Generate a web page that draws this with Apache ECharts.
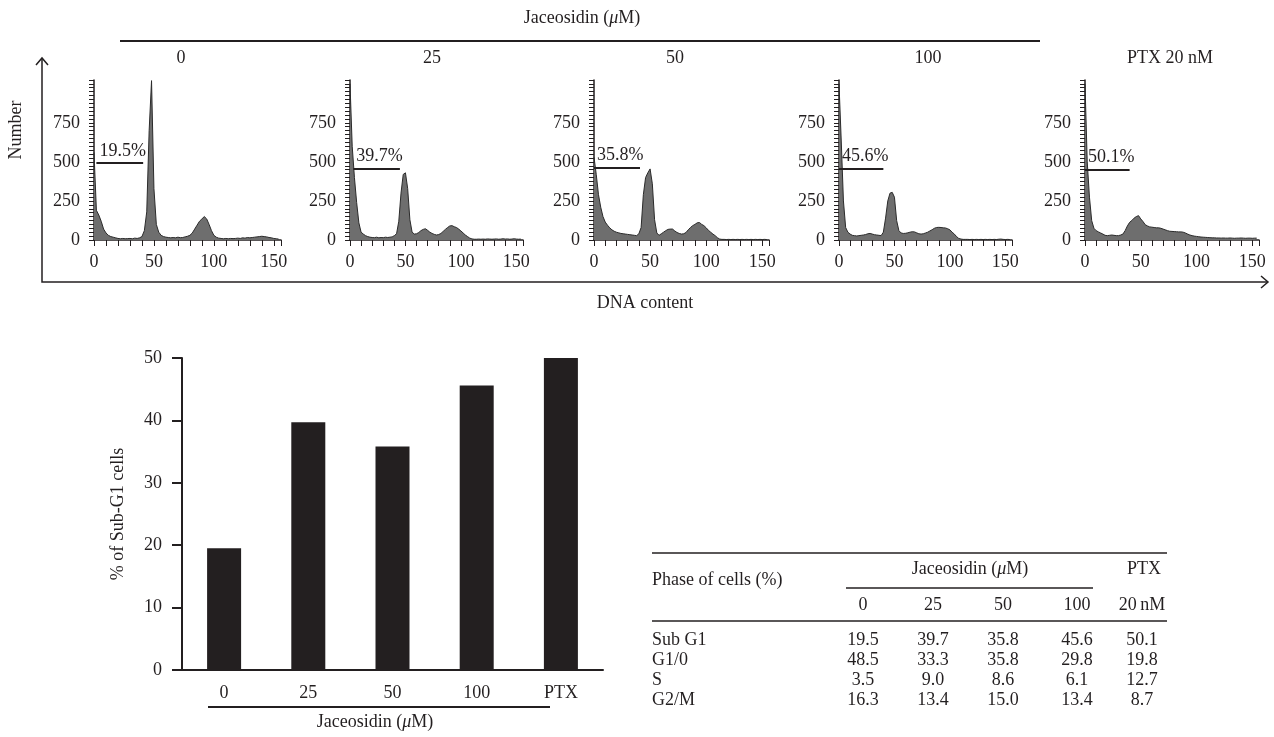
<!DOCTYPE html>
<html><head><meta charset="utf-8">
<script src="https://cdn.jsdelivr.net/npm/echarts@6/dist/echarts.min.js"></script>
<style>html,body{margin:0;padding:0;background:#fff}#c{width:1274px;height:737px}</style>
</head><body><div id="c"></div>
<script>
// ---------- DATA ----------
const dnaBins = [0,2,4,6,8,10,12,14,16,18,20,22,24,26,28,30,32,34,36,38,40,42,44,46,48,50,52,54,56,58,60,62,64,66,68,70,72,74,76,78,80,82,84,86,88,90,92,94,96,98,100,102,104,106,108,110,112,114,116,118,120,122,124,126,128,130,132,134,136,138,140,142,144,146,148,150,152,154];
const panelLabels = ['0','25','50','100','PTX 20 nM'];
const countsJ0 = [560,190,160,120,70,45,30,22,18,14, 10,8,10,8,9,10,8,12,10,14, 22,60,180,700,1020,330,100,50,30,22, 18,16,14,16,14,18,15,16,20,24, 30,45,70,95,120,135,150,135,100,60, 30,18,12,10,8,10,8,10,9,10, 12,10,14,12,16,14,16,18,20,22, 24,22,20,16,14,10,8,6];
const countsJ25 = [1000,600,400,240,110,50,38,28,22,18, 16,15,18,14,16,15,18,16,18,20, 28,40,120,300,420,430,330,130,50,38, 40,48,60,68,72,62,50,42,36,32, 35,42,55,68,80,90,92,85,80,70, 58,45,32,22,12,7,5,5,6,5, 6,5,7,6,5,6,7,5,6,8, 6,7,5,6,8,6,5,6];
const countsJ50 = [530,420,290,210,150,115,95,78,65,56, 50,46,42,40,38,36,34,32,30,28, 40,80,290,400,430,455,360,130,45,30, 40,50,60,68,70,70,58,48,42,38, 40,48,65,80,92,100,110,112,100,92, 78,62,50,38,28,15,6,4,4,3, 4,3,4,3,4,3,4,3,4,3, 4,3,4,3,4,3,4,3];
const countsJ100 = [1000,640,250,80,50,38,30,28,26,28, 30,32,35,40,42,38,34,32,30,28, 50,140,250,300,305,274,124,60,45,42, 43,46,50,53,52,46,40,38,40,45, 50,58,66,75,80,81,80,78,77,72, 65,50,38,22,10,6,4,4,4,3, 4,3,4,3,4,3,4,3,4,3, 4,3,5,6,4,3,4,3];
const countsPTX = [1000,500,274,124,75,60,52,45,38,30, 28,30,32,30,28,28,32,38,60,90, 113,125,140,150,156,135,118,98,90,84, 82,80,78,78,75,70,65,60,56,55, 54,53,52,52,50,45,38,32,28,25, 23,21,19,18,17,16,15,14,14,13, 13,12,13,12,12,13,12,11,12,12, 13,12,11,12,12,11,12,12];
const gateStart = [2,3,0,0,0];
const gateEnd = [41,45,41,40,40];
const gateLevel = [493,456,463,456,452];

const barCategories = ['0','25','50','100','PTX'];
const subG1 = [19.5,39.7,35.8,45.6,50.1];
const g10 = [48.5,33.3,35.8,29.8,19.8];
const sPhase = [3.5,9.0,8.6,6.1,12.7];
const g2m = [16.3,13.4,15.0,13.4,8.7];
const tableRowNames = ['Sub G1','G1/0','S','G2/M'];
const tableDoseHeaders = ['0','25','50','100','20\u2009nM'];

// ---------- LAYOUT ----------
const allCounts = [countsJ0,countsJ25,countsJ50,countsJ100,countsPTX];
const FONT = '"Liberation Serif","DejaVu Serif",serif';
const INK = '#231f20';
const histLayout = [
  {left:94,width:187},{left:350,width:173},{left:594,width:175},{left:839,width:173},{left:1085,width:174}
];
const panelLabelX = [181,432,675,928,1170];

const grids=[],xAxes=[],yAxes=[],series=[];
histLayout.forEach((g,i)=>{
  grids.push({left:g.left,width:g.width,top:80,height:160});
  xAxes.push({gridIndex:i,type:'value',min:0,max:156,interval:50,
    axisLine:{lineStyle:{color:INK,width:1.5}},
    axisTick:{show:true,length:6,lineStyle:{color:INK,width:1}},
    minorTick:{show:true,splitNumber:5,length:6,lineStyle:{color:INK,width:1}},
    splitLine:{show:false},minorSplitLine:{show:false},
    axisLabel:{fontFamily:FONT,fontSize:18,color:INK,margin:13,
      formatter:v=>(v%50===0&&v<=150)?String(v):''}
  });
  yAxes.push({gridIndex:i,type:'value',min:0,max:1024,interval:250,
    axisLine:{show:true,lineStyle:{color:INK,width:1.5}},
    axisTick:{show:true,length:5,lineStyle:{color:INK,width:1}},
    minorTick:{show:true,splitNumber:10,length:5,lineStyle:{color:INK,width:1}},
    splitLine:{show:false},minorSplitLine:{show:false},
    axisLabel:{fontFamily:FONT,fontSize:18,color:INK,margin:14,
      formatter:v=>(v<=750)?String(v):''}
  });
  series.push({type:'line',xAxisIndex:i,yAxisIndex:i,
    data:dnaBins.map((x,j)=>[x,allCounts[i][j]]),
    symbol:'none',showSymbol:false,
    lineStyle:{color:'#2b2b2b',width:1},
    areaStyle:{color:'#6e6e6e',opacity:1},
    markLine:{silent:true,symbol:'none',animation:false,
      lineStyle:{color:INK,width:2,type:'solid'},
      label:{show:true,position:'insideStartTop',distance:3,
        formatter:subG1[i].toFixed(1)+'%',fontFamily:FONT,fontSize:18,color:INK},
      data:[[{coord:[gateStart[i],gateLevel[i]]},{coord:[gateEnd[i],gateLevel[i]]}]]
    }
  });
});

// bar chart
grids.push({left:182,top:358,width:421,height:312});
xAxes.push({gridIndex:5,type:'category',data:barCategories,
  axisLine:{lineStyle:{color:INK,width:2}},axisTick:{show:false},
  axisLabel:{fontFamily:FONT,fontSize:18,color:INK,margin:14}});
yAxes.push({gridIndex:5,type:'value',min:0,max:50,interval:10,
  axisLine:{show:true,lineStyle:{color:INK,width:2}},
  axisTick:{show:true,length:10,lineStyle:{color:INK,width:2}},
  splitLine:{show:false},
  axisLabel:{fontFamily:FONT,fontSize:18,color:INK,margin:20},
  name:'% of Sub-G1 cells',nameLocation:'middle',nameGap:55,
  nameTextStyle:{fontFamily:FONT,fontSize:18,color:INK}});
series.push({type:'bar',xAxisIndex:5,yAxisIndex:5,data:subG1,barWidth:34,
  itemStyle:{color:INK}});

// graphics
const T=(text,x,y,opt={})=>Object.assign({type:'text',x:x,y:y,silent:true,
  style:Object.assign({text:text,fill:INK,font:'18px '+FONT,textAlign:'center',textVerticalAlign:'middle'},opt.style||{})},opt.extra||{});
const L=(pts,w)=>({type:'polyline',silent:true,shape:{points:pts},style:{stroke:INK,lineWidth:w||1.5,fill:null}});
const jac=(x,y,size)=>({type:'text',x:x,y:y,silent:true,style:{
  text:'{n|Jaceosidin (}{i|\u03bc}{n|M)}',textAlign:'center',textVerticalAlign:'middle',
  rich:{n:{fontFamily:FONT,fontSize:size,fill:INK,color:INK},i:{fontFamily:FONT,fontSize:size,fontStyle:'italic',fill:INK,color:INK}}}});

const graphics=[];
graphics.push(jac(582,18,18));
graphics.push(L([[120,41],[1040,41]],2));
panelLabels.forEach((p,i)=>graphics.push(T(p,panelLabelX[i],58)));
graphics.push(L([[42,58],[42,282],[1268,282]],1.5));
graphics.push(L([[36,65],[42,58],[48,65]],1.5));
graphics.push(L([[1261,276],[1268,282],[1261,288]],1.5));
graphics.push(T('Number',16,130,{extra:{rotation:Math.PI/2}}));
graphics.push(T('DNA content',645,303));
// bar chart under-label
graphics.push(L([[208,707],[550,707]],2));
graphics.push(jac(375,722,18));
// table
const TF=18;
const colX=[863,933,1003,1077,1142];
const rowY=[640,660,680,700];
graphics.push(L([[652,553],[1167,553]],1.5));
graphics.push(T('Phase of cells (%)',652,580,{style:{textAlign:'left',font:TF+'px '+FONT}}));
graphics.push(jac(970,569,TF));
graphics.push(T('PTX',1144,569,{style:{font:TF+'px '+FONT}}));
graphics.push(L([[846,588],[1093,588]],1.5));
tableDoseHeaders.forEach((h,i)=>graphics.push(T(h,colX[i],605,{style:{font:TF+'px '+FONT}})));
graphics.push(L([[652,621],[1167,621]],1.5));
const tableRows=[subG1,g10,sPhase,g2m];
tableRowNames.forEach((n,r)=>{
  graphics.push(T(n,652,rowY[r],{style:{textAlign:'left',font:TF+'px '+FONT}}));
  tableRows[r].forEach((v,c)=>graphics.push(T(v.toFixed(1),colX[c],rowY[r],{style:{font:TF+'px '+FONT}})));
});

const chart=echarts.init(document.getElementById('c'),null,{renderer:'canvas'});
chart.setOption({animation:false,backgroundColor:'#fff',
  grid:grids,xAxis:xAxes,yAxis:yAxes,series:series,graphic:graphics});
</script></body></html>
